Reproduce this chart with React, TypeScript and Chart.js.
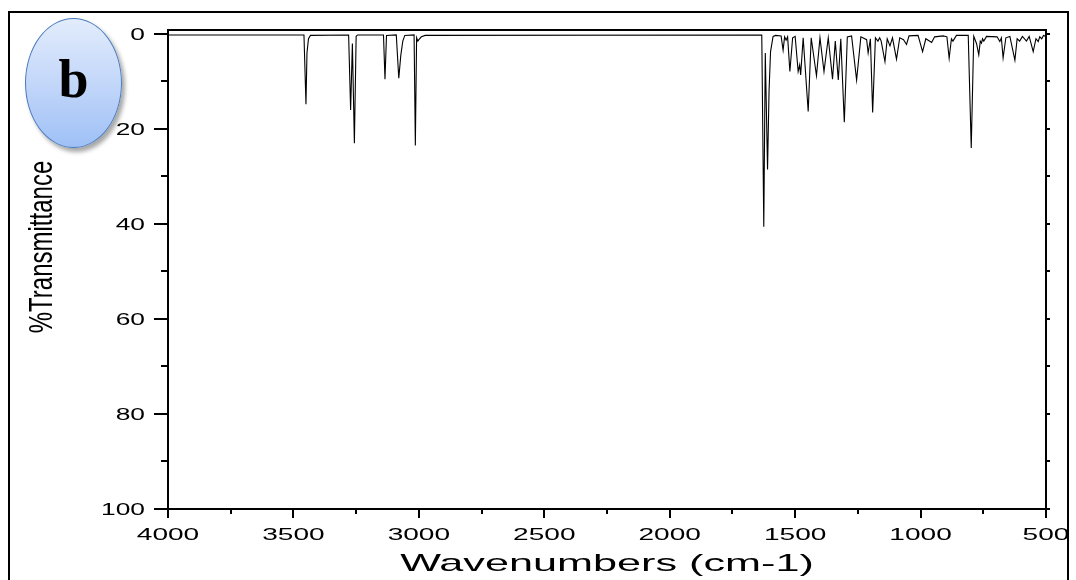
import React, { useEffect, useRef } from "react";
import { Chart, registerables } from "chart.js";

Chart.register(...registerables);

// Spectrum vertices (wavenumber in cm-1, %T axis value)
const wavenumbers = [
  4000, 3458, 3450, 3446, 3440, 3432,
  3280, 3272, 3265, 3257, 3250, 3244,
  3141, 3135, 3129,
  3090, 3080, 3072, 3064, 3056,
  3019, 3014, 3009, 3004, 3000, 2990, 2975,
  1633, 1625, 1619, 1610, 1604, 1598, 1588, 1578,
  1556, 1548, 1542, 1536, 1530, 1521, 1510, 1500,
  1488, 1482, 1478, 1468, 1448, 1436, 1415, 1401,
  1385, 1368, 1351, 1340, 1328, 1318, 1304, 1292,
  1275, 1255, 1238, 1215, 1209, 1200, 1191, 1180,
  1170, 1163, 1157, 1142, 1133, 1122, 1112, 1096,
  1083, 1068, 1056, 1046, 1010, 992, 979, 956,
  944, 910, 895, 886, 877, 871, 857, 810,
  798, 788, 777, 768, 762, 757, 753, 748,
  737, 695, 684, 678, 671, 660, 644, 624,
  615, 605, 594, 578, 567, 551, 540, 531,
  525, 517, 510, 500,
];
const transmittance = [
  0.2, 0.2, 14.8, 4, 1, 0.3,
  0.2, 16, 2, 23, 0.5, 0.2,
  0.2, 9.5, 0.3,
  0.2, 9.3, 4.5, 1.5, 0.3,
  0.2, 23.5, 0.8, 1.5, 1.2, 0.6, 0.3,
  0.2, 40.6, 4, 28.5, 12, 3.7, 0.5, 0.3,
  0.4, 3.4, 0.6, 1.3, 0.6, 7.9, 0.8, 0.5,
  7.9, 6.5, 8.6, 0.8, 16.3, 0.8, 8.8, 0.8,
  7.9, 0.8, 9.5, 1.5, 9.7, 1, 18.6, 0.6,
  0.4, 9.7, 0.6, 1.2, 4, 1, 16.5, 0.8,
  1.5, 0.8, 1.5, 5.8, 1, 2.5, 0.8, 5.3,
  0.8, 1.2, 2.2, 0.4, 0.3, 3.7, 1, 1.8,
  0.6, 0.4, 0.6, 5.1, 1, 1.5, 0.3, 0.3,
  24, 0.5, 2, 4.4, 1.5, 1.9, 1, 1.5,
  0.5, 0.6, 1.6, 0.8, 5, 0.8, 0.5, 5.5,
  1, 1.5, 0.5, 1.5, 0.5, 3.7, 1, 1.6,
  0.6, 1, 0.3, 0.5,
];

const xMajorTicks = [4000, 3500, 3000, 2500, 2000, 1500, 1000, 500];
const xMinorTicks = [3750, 3250, 2750, 2250, 1750, 1250, 750];
const yMajorTicks = [0, 20, 40, 60, 80, 100];
const yMinorTicks = [10, 30, 50, 70, 90];
const yRightTicks = [0, 10, 20, 30, 40, 50, 60, 70, 80, 90, 100];
const xTitle = "Wavenumbers (cm-1)";
const yTitle = "%Transmittance";
const panelLabel = "b";

const SANS = '"Liberation Sans", Arial, sans-serif';

function stretchedText(
  ctx: CanvasRenderingContext2D,
  text: string,
  x: number,
  y: number,
  sx: number,
  align: CanvasTextAlign
) {
  ctx.save();
  ctx.translate(x, y);
  ctx.scale(sx, 1);
  ctx.textAlign = align;
  ctx.textBaseline = "alphabetic";
  ctx.fillText(text, 0, 0);
  ctx.restore();
}

const axesPlugin = {
  id: "customAxes",
  afterDraw(chart: any) {
    const ctx: CanvasRenderingContext2D = chart.ctx;
    const { left, right, top, bottom } = chart.chartArea;
    const xs = chart.scales.x;
    const ys = chart.scales.y;
    ctx.save();
    ctx.strokeStyle = "#000";
    ctx.lineWidth = 2;
    ctx.lineCap = "butt";
    ctx.strokeRect(left, top, right - left, bottom - top);

    ctx.beginPath();
    yMajorTicks.forEach((v) => {
      const p = Math.round(ys.getPixelForValue(v));
      ctx.moveTo(left, p);
      ctx.lineTo(left - 14, p);
    });
    yMinorTicks.forEach((v) => {
      const p = Math.round(ys.getPixelForValue(v));
      ctx.moveTo(left, p);
      ctx.lineTo(left - 7, p);
    });
    yRightTicks.forEach((v) => {
      const p = Math.round(ys.getPixelForValue(v));
      ctx.moveTo(right, p);
      ctx.lineTo(right + 4, p);
    });
    xMajorTicks.forEach((v) => {
      const p = Math.round(xs.getPixelForValue(v));
      ctx.moveTo(p, bottom);
      ctx.lineTo(p, bottom + 9);
    });
    xMinorTicks.forEach((v) => {
      const p = Math.round(xs.getPixelForValue(v));
      ctx.moveTo(p, bottom);
      ctx.lineTo(p, bottom + 5);
    });
    ctx.stroke();

    ctx.fillStyle = "#000";
    ctx.font = `17px ${SANS}`;
    yMajorTicks.forEach((v) => {
      const p = ys.getPixelForValue(v);
      stretchedText(ctx, String(v), 145, p + 6.1, 1.55, "right");
    });
    xMajorTicks.forEach((v) => {
      const p = xs.getPixelForValue(v);
      stretchedText(ctx, String(v), p, 540, 1.65, "center");
    });

    ctx.font = `24px ${SANS}`;
    stretchedText(ctx, xTitle, (left + right) / 2, 571, 1.8, "center");

    ctx.font = `24px ${SANS}`;
    ctx.save();
    ctx.translate(52, 247);
    ctx.rotate(-Math.PI / 2);
    ctx.scale(1, 1.4);
    ctx.textAlign = "center";
    ctx.textBaseline = "alphabetic";
    ctx.fillText(yTitle, 0, 0);
    ctx.restore();

    ctx.restore();
  },
};

export default function App() {
  const ref = useRef<HTMLCanvasElement>(null);

  useEffect(() => {
    if (!ref.current) return;
    const points = wavenumbers.map((w, i) => ({ x: w, y: transmittance[i] }));
    const chart = new Chart(ref.current, {
      type: "line",
      data: {
        datasets: [
          {
            data: points,
            borderColor: "#000",
            borderWidth: 1.1,
            pointRadius: 0,
            tension: 0,
            fill: false,
          },
        ],
      },
      options: {
        animation: false,
        responsive: false,
        devicePixelRatio: 1,
        layout: { padding: { left: 0, right: 30, top: 30, bottom: 0 } },
        plugins: { legend: { display: false }, tooltip: { enabled: false } },
        scales: {
          x: {
            type: "linear",
            reverse: true,
            min: 500,
            max: 4000,
            ticks: { display: false },
            grid: { display: false },
            border: { display: false },
            afterFit: (s: any) => {
              s.height = 71;
            },
          },
          y: {
            type: "linear",
            reverse: true,
            min: -0.84,
            max: 100,
            ticks: { display: false },
            grid: { display: false },
            border: { display: false },
            afterFit: (s: any) => {
              s.width = 168;
            },
          },
        },
      } as any,
      plugins: [axesPlugin],
    });
    return () => chart.destroy();
  }, []);

  return (
    <div
      style={{
        position: "absolute",
        left: 0,
        top: 0,
        width: 1076,
        height: 580,
        overflow: "hidden",
        background: "#fff",
      }}
    >
      <canvas
        ref={ref}
        width={1076}
        height={580}
        style={{ position: "absolute", left: 0, top: 0, display: "block" }}
      />
      <div
        style={{
          position: "absolute",
          left: 8,
          top: 11,
          width: 1061,
          height: 620,
          boxSizing: "border-box",
          border: "2px solid #000",
          pointerEvents: "none",
        }}
      />
      <div
        style={{
          position: "absolute",
          left: 25,
          top: 18,
          width: 97,
          height: 130,
          boxSizing: "border-box",
          borderRadius: "50%",
          border: "1.5px solid #4a7bbd",
          background: "linear-gradient(to bottom, #e2ecfc 0%, #c3d7f9 50%, #9fc0f6 100%)",
          boxShadow: "3px 4px 4px rgba(0,0,0,0.35)",
        }}
      />
      <div
        style={{
          position: "absolute",
          left: 25,
          top: 52,
          width: 97,
          textAlign: "center",
          fontFamily: '"Liberation Serif", "Times New Roman", serif',
          fontWeight: "bold",
          fontSize: 54,
          lineHeight: "54px",
          color: "#000",
        }}
      >
        {panelLabel}
      </div>
    </div>
  );
}
